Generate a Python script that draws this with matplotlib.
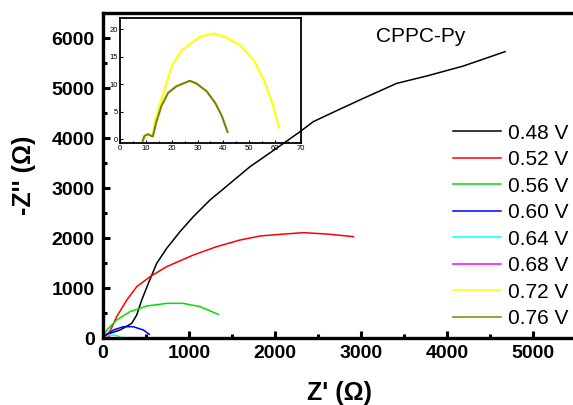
import matplotlib.pyplot as plt
from matplotlib.ticker import MultipleLocator

plt.rcParams['font.family'] = ['Liberation Sans', 'DejaVu Sans']

# Nyquist data, Z' and -Z'' in ohm
labels = ['0.48 V', '0.52 V', '0.56 V', '0.60 V', '0.64 V', '0.68 V', '0.72 V', '0.76 V']
colors = ['black', 'red', '#00e000', '#0000ff', '#00ffff', '#ff00ff', '#ffff00', '#808000']

zr_048 = [0, 43, 198, 334, 392, 450, 527, 624, 740, 895, 1050, 1244, 1477, 1709, 1962,
          2291, 2445, 2717, 3027, 3415, 3764, 4190, 4674]
zi_048 = [0, 73, 160, 293, 460, 760, 1093, 1493, 1793, 2127, 2427, 2760, 3093, 3427, 3727,
          4127, 4327, 4547, 4793, 5093, 5240, 5440, 5727]

zr_052 = [0, 78, 159, 276, 392, 547, 740, 1050, 1322, 1593, 1826, 2058, 2329, 2601, 2911]
zi_052 = [0, 127, 427, 760, 1027, 1227, 1427, 1660, 1827, 1960, 2040, 2073, 2107, 2080, 2027]

zr_056 = [0, 43, 159, 314, 508, 740, 934, 1128, 1341]
zi_056 = [0, 160, 360, 527, 640, 693, 693, 627, 473]

zr_060 = [0, 23, 120, 236, 352, 469, 539]
zi_060 = [0, 40, 160, 226, 226, 160, 73]

zr_064 = [23, 60, 110, 150, 190, 217]
zi_064 = [5, 40, 60, 55, 30, 0]

zr_068 = [0, 20, 45, 70, 95]
zi_068 = [0, 20, 30, 22, 0]

zr_072 = [8.8, 9.5, 10.8, 12.1, 12.7, 13.4, 16.0, 19.9, 23.8, 30.9, 36.2, 41.4, 46.6, 51.8, 55.7, 58.9, 61.5]
zi_072 = [-0.3, 0.6, 0.9, 0.6, 0.5, 3.0, 7.2, 13.1, 16.1, 18.6, 19.2, 18.4, 17.0, 14.3, 10.7, 6.6, 2.1]

zr_076 = [8.8, 9.5, 10.8, 12.1, 12.7, 14.0, 16.0, 18.6, 21.8, 27.0, 29.6, 33.5, 36.8, 39.4, 41.6]
zi_076 = [-0.3, 0.6, 0.9, 0.6, 0.5, 3.0, 6.0, 8.4, 9.6, 10.6, 10.1, 8.7, 6.6, 4.2, 1.3]

zr = [zr_048, zr_052, zr_056, zr_060, zr_064, zr_068, zr_072, zr_076]
zi = [zi_048, zi_052, zi_056, zi_060, zi_064, zi_068, zi_072, zi_076]

fig = plt.figure(figsize=(5.73, 4.05), dpi=100)
ax = fig.add_axes([0.1798, 0.1654, 0.8255, 0.8025])

for x, y, c, lab in zip(zr, zi, colors, labels):
    ax.plot(x, y, color=c, lw=1.1, label=lab)

ax.set_xlim(0, 5500)
ax.set_ylim(0, 6500)
ax.xaxis.set_major_locator(MultipleLocator(1000))
ax.xaxis.set_minor_locator(MultipleLocator(500))
ax.yaxis.set_major_locator(MultipleLocator(1000))
ax.yaxis.set_minor_locator(MultipleLocator(500))
ax.tick_params(which='both', direction='in', width=2.2, top=False, right=False)
ax.tick_params(which='major', length=5)
ax.tick_params(which='minor', length=3)
ax.tick_params(axis='x', pad=5)
ax.tick_params(axis='y', pad=6)
for lab in ax.get_xticklabels() + ax.get_yticklabels():
    lab.set_fontsize(14)
    lab.set_fontweight('bold')
for side in ['left', 'bottom', 'top', 'right']:
    ax.spines[side].set_linewidth(2.4)

ax.set_xlabel("Z' (\u03a9)", fontsize=18, fontweight='bold', labelpad=14)
ax.set_ylabel("-Z'' (\u03a9)", fontsize=18, fontweight='bold', labelpad=11)

fig.text(0.735, 0.909, 'CPPC-Py', fontsize=15, ha='center', va='center')

ax.legend(loc='upper left', bbox_to_anchor=(0.7906, 0.695), bbox_transform=fig.transFigure,
          frameon=False, fontsize=15, borderpad=0, borderaxespad=0,
          handlelength=2.3, handletextpad=0.35, labelspacing=0.36)

# zoomed view of the two high-voltage arcs, transparent background
ins = fig.add_axes([0.2094, 0.6469, 0.3159, 0.3086])
ins.patch.set_facecolor('none')
ins.plot(zr_072, zi_072, color=colors[6], lw=1.5)
ins.plot(zr_076, zi_076, color=colors[7], lw=1.5)
ins.set_xlim(0, 70)
ins.set_ylim(-0.7, 22)
ins.xaxis.set_major_locator(MultipleLocator(10))
ins.xaxis.set_minor_locator(MultipleLocator(5))
ins.yaxis.set_major_locator(MultipleLocator(5))
ins.tick_params(which='both', direction='in', labelsize=5.5, pad=1.5, width=0.8)
ins.tick_params(which='major', length=2.5)
ins.tick_params(which='minor', length=1.5)
for side in ['left', 'bottom', 'top', 'right']:
    ins.spines[side].set_linewidth(1.3)

fig.savefig('out.png', dpi=100)
